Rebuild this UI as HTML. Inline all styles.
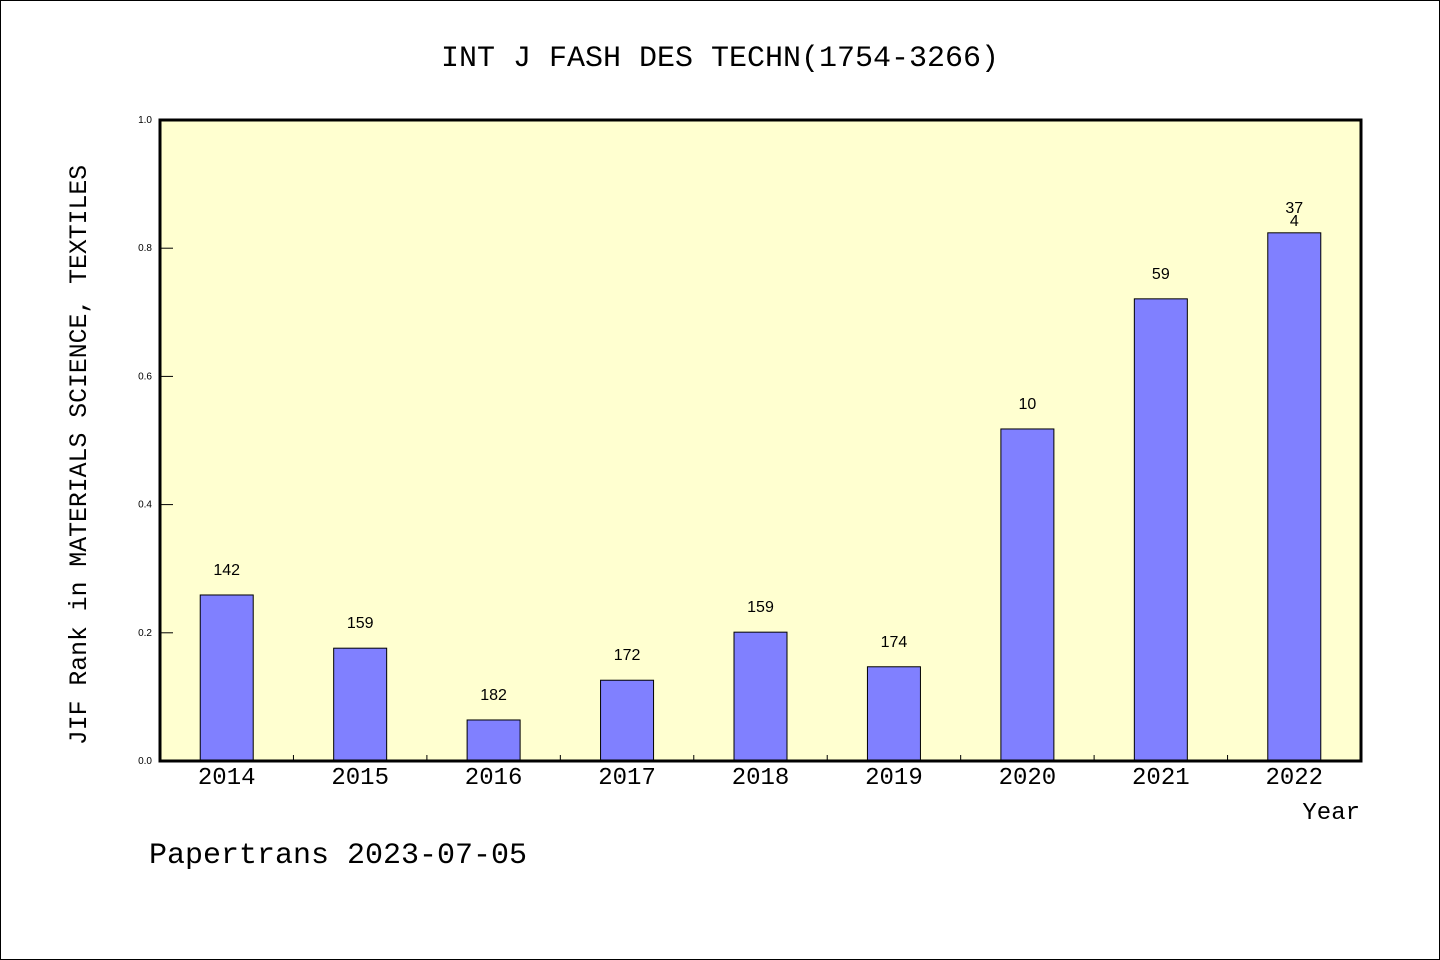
<!DOCTYPE html>
<html><head><meta charset="utf-8"><style>
html,body{margin:0;padding:0;background:#fff}
svg{display:block}
text{font-family:"Liberation Sans",sans-serif;fill:#000}
.mono{font-family:"Liberation Mono",monospace}
</style></head><body>
<svg id="chart" width="1440" height="960" xmlns="http://www.w3.org/2000/svg">
<rect x="0.5" y="0.5" width="1439" height="959" fill="#fff" stroke="#000"/>
<text class="mono" x="720" y="66" font-size="30" text-anchor="middle">INT J FASH DES TECHN(1754-3266)</text>
<rect x="160" y="120" width="1201" height="641" fill="#ffffd0"/>
<g id="bars"></g>
<g id="axes"></g>
<rect x="160" y="120" width="1201" height="641" fill="none" stroke="#000" stroke-width="3"/>
<text class="mono" transform="translate(86,455) rotate(-90)" font-size="24.8" text-anchor="middle">JIF Rank in MATERIALS SCIENCE, TEXTILES</text>
<text class="mono" x="1360" y="819" font-size="24" text-anchor="end">Year</text>
<text class="mono" x="149" y="863" font-size="30">Papertrans 2023-07-05</text>
</svg>
<script>
const categories=["2014","2015","2016","2017","2018","2019","2020","2021","2022"];
const values=[0.259,0.176,0.064,0.126,0.201,0.147,0.518,0.721,0.824];
const rankLabels=["142","159","182","172","159","174","10","59","37\n4"];
const yTicks=[0,0.2,0.4,0.6,0.8,1.0];
const NS="http://www.w3.org/2000/svg";
const X0=160,X1=1361,Y0=761,Y1=120;
const step=(X1-X0)/categories.length;
const xCenter=i=>X0+step*(i+0.5);
const yPos=v=>Y0-(v/1)*(Y0-Y1);
function mk(tag,attrs,parent){const e=document.createElementNS(NS,tag);for(const k in attrs)e.setAttribute(k,attrs[k]);parent.appendChild(e);return e;}
const bars=document.getElementById('bars'),axes=document.getElementById('axes');
categories.forEach((c,i)=>{
  const cx=xCenter(i),y=yPos(values[i]);
  const r=mk('rect',{x:cx-26.5,y:y,width:53,height:Y0-y,fill:'#8080ff',stroke:'#000','stroke-width':1},bars);
  
  
  const lines=rankLabels[i].split('\n');
  lines.forEach((l,j)=>{
    const t=mk('text',{x:cx,y:y-20+j*13,'font-size':16,'text-anchor':'middle'},bars);
    t.textContent=l;
    
    
  });
  const xl=mk('text',{class:'mono',x:cx,y:784,'font-size':24,'text-anchor':'middle'},axes);
  xl.textContent=c;
  
  
  if(i>0){const tk=mk('line',{x1:X0+step*i,x2:X0+step*i,y1:Y0,y2:Y0-6,stroke:'#000','stroke-width':1},axes);
  
  }
});
yTicks.forEach(v=>{
  const y=yPos(v);
  const tk=mk('line',{x1:X0,x2:X0+13,y1:y,y2:y,stroke:'#000','stroke-width':1},axes);
  
  
  const t=mk('text',{x:152,y:y+3,'font-size':10,'text-anchor':'end'},axes);
  t.textContent=v.toFixed(1);
  
  
});
</script>
</body></html>
